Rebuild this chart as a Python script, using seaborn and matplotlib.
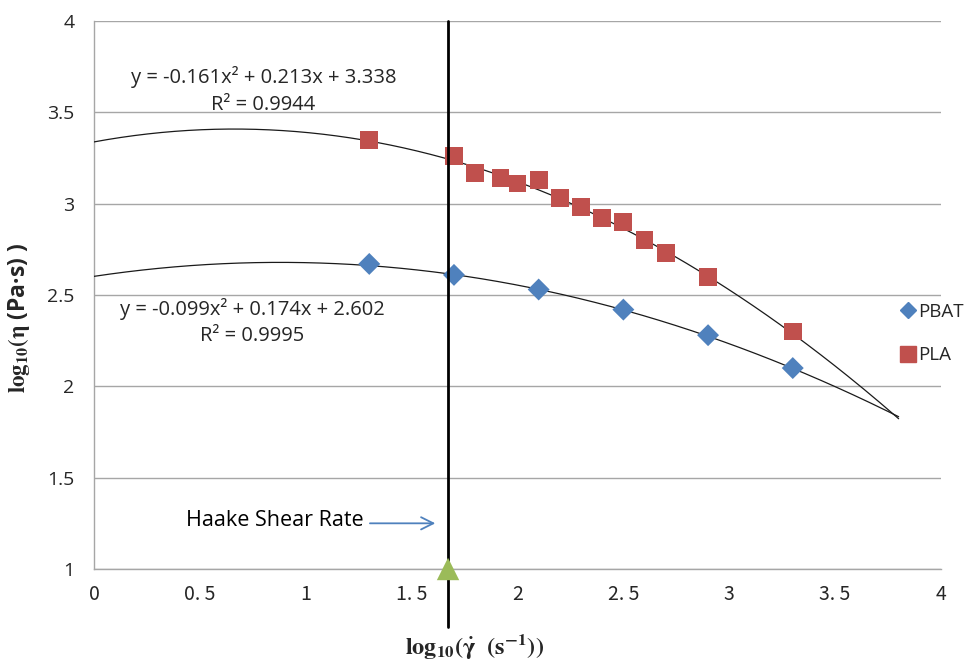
import numpy as np
import pandas as pd
import matplotlib
matplotlib.use("Agg")
import matplotlib.pyplot as plt
from matplotlib.lines import Line2D
import seaborn as sns

# ---- data -------------------------------------------------------------
pla_x = [1.30, 1.70, 1.80, 1.92, 2.00, 2.10, 2.20, 2.30, 2.40, 2.50, 2.60, 2.70, 2.90, 3.30]
pla_y = [3.35, 3.26, 3.17, 3.14, 3.11, 3.13, 3.03, 2.98, 2.92, 2.90, 2.80, 2.73, 2.60, 2.30]

pbat_x = [1.30, 1.70, 2.10, 2.50, 2.90, 3.30]
pbat_y = [2.67, 2.61, 2.53, 2.42, 2.28, 2.10]

# quadratic trendline coefficients (a, b, c) and R^2
pla_coef = [-0.161, 0.213, 3.338]
pla_r2 = 0.9944
pbat_coef = [-0.099, 0.174, 2.602]
pbat_r2 = 0.9995
trend_range = [0.0, 3.8]

haake_rate = 1.672  # log10 of the Haake shear rate

x_ticks = [0, 0.5, 1, 1.5, 2, 2.5, 3, 3.5, 4]
x_ticklabels = ["0", "0. 5", "1", "1. 5", "2", "2. 5", "3", "3. 5", "4"]
y_ticks = [1, 1.5, 2, 2.5, 3, 3.5, 4]
y_ticklabels = ["1", "1.5", "2", "2.5", "3", "3.5", "4"]

# ---- style ------------------------------------------------------------
sns.set_style("white")
plt.rcParams["font.family"] = ["Open Sans", "DejaVu Sans"]
plt.rcParams["mathtext.fontset"] = "stix"

RED = "#C0504D"
BLUE = "#4F81BD"
GREEN = "#9BBB59"
GRID = "#A6A6A6"

fig = plt.figure(figsize=(9.68, 6.62), dpi=100)
ax = fig.add_axes([0.0971, 0.1405, 0.875, 0.8278])

points = pd.concat([
    pd.DataFrame({"x": pbat_x, "y": pbat_y, "polymer": "PBAT"}),
    pd.DataFrame({"x": pla_x, "y": pla_y, "polymer": "PLA"}),
], ignore_index=True)

# polynomial trendlines
xs = np.linspace(trend_range[0], trend_range[1], 300)
curves = pd.concat([
    pd.DataFrame({"x": xs, "y": np.polyval(pla_coef, xs), "fit": "PLA"}),
    pd.DataFrame({"x": xs, "y": np.polyval(pbat_coef, xs), "fit": "PBAT"}),
], ignore_index=True)
sns.lineplot(data=curves, x="x", y="y", units="fit", estimator=None,
             color="#1a1a1a", lw=0.9, ax=ax, legend=False, zorder=3)

sns.scatterplot(data=points, x="x", y="y", hue="polymer", style="polymer",
                size="polymer", sizes={"PBAT": 125, "PLA": 165},
                markers={"PBAT": "D", "PLA": "s"},
                palette={"PBAT": BLUE, "PLA": RED},
                edgecolor="none", ax=ax, legend=False, zorder=4)

# Haake shear rate marker line
ax.plot([haake_rate, haake_rate], [4.0, 0.68], color="black", lw=2.0,
        clip_on=False, zorder=5)
ax.scatter([haake_rate], [1.0], marker="^", s=260, color=GREEN,
           clip_on=False, zorder=6, edgecolor="none")

ax.annotate("", xy=(1.625, 1.25), xytext=(1.29, 1.25),
            arrowprops=dict(arrowstyle="->", color=BLUE, lw=1.3,
                            mutation_scale=22))
ax.text(1.275, 1.268, "Haake Shear Rate", ha="right", va="center",
        fontsize=15.5, color="black")

# trendline equations
def eq_text(c):
    return f"y = {c[0]:.3f}x² + {c[1]:.3f}x + {c[2]:.3f}"

EQ_FS = 14.5
ax.text(0.80, 3.693, eq_text(pla_coef), ha="center", va="center", fontsize=EQ_FS)
ax.text(0.80, 3.54, f"R² = {pla_r2:.4f}", ha="center", va="center", fontsize=EQ_FS)
ax.text(0.749, 2.423, eq_text(pbat_coef), ha="center", va="center", fontsize=EQ_FS)
ax.text(0.749, 2.275, f"R² = {pbat_r2:.4f}", ha="center", va="center", fontsize=EQ_FS)

# axes
ax.set_xlim(0, 4)
ax.set_ylim(1, 4)
ax.set_xticks(x_ticks)
ax.set_xticklabels(x_ticklabels, fontsize=14,
                   family=["Noto Sans CJK JP", "DejaVu Sans"])
ax.set_yticks(y_ticks)
ax.set_yticklabels(y_ticklabels, fontsize=14)
ax.yaxis.grid(True, color=GRID, lw=1.0)
ax.xaxis.grid(False)
for side in ("top", "right"):
    ax.spines[side].set_visible(False)
for side in ("left", "bottom"):
    ax.spines[side].set_color(GRID)
    ax.spines[side].set_linewidth(1.0)
ax.tick_params(axis="x", direction="out", length=5, color=GRID, width=1.0, pad=6)
ax.tick_params(axis="y", direction="out", length=6, color=GRID, width=1.0, pad=8)

ax.set_xlabel("")
ax.set_ylabel("")
fig.text(0.4897, 0.023, r"$\mathbf{log_{10}(\dot{\gamma}\ \ (s^{-1}))}$",
         ha="center", va="center", fontsize=17.5)
fig.text(0.0196, 0.52, r"$\mathbf{log_{10}(\eta}$ (Pa·s) )",
         ha="center", va="center", rotation=90, fontsize=16.5, fontweight="bold")

handles = [
    Line2D([], [], marker="D", ls="none", color=BLUE, markersize=8),
    Line2D([], [], marker="s", ls="none", color=RED, markersize=11),
]
fig.legend(handles, ["PBAT", "PLA"], loc="center left",
           bbox_to_anchor=(0.919, 0.496), frameon=False, fontsize=13.5,
           labelspacing=1.35, handletextpad=0.0, handlelength=1.0,
           borderpad=0)

fig.savefig("out.png", dpi=100)
